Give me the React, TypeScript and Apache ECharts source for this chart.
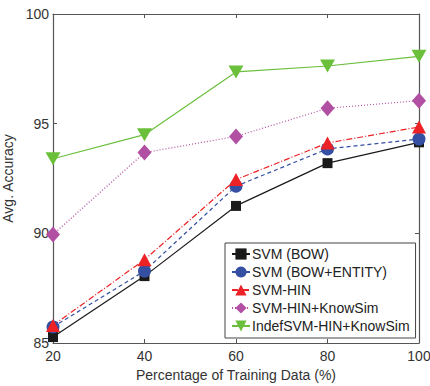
import React, { useEffect, useRef } from "react";
import * as echarts from "echarts";

const xValues = [20, 40, 60, 80, 100];
const svmBow = [85.27, 88.05, 91.25, 93.2, 94.15];
const svmBowEntity = [85.73, 88.28, 92.15, 93.85, 94.3];
const svmHin = [85.8, 88.8, 92.45, 94.12, 94.85];
const svmHinKnowSim = [89.95, 93.68, 94.42, 95.7, 96.05];
const indefSvm = [93.4, 94.5, 97.36, 97.63, 98.07];

const seriesNames = [
  "SVM (BOW)",
  "SVM (BOW+ENTITY)",
  "SVM-HIN",
  "SVM-HIN+KnowSim",
  "IndefSVM-HIN+KnowSim",
];

const FONT = "Liberation Sans, Arial, Helvetica, sans-serif";

export default function App() {
  const ref = useRef<HTMLDivElement>(null);
  useEffect(() => {
    if (!ref.current) return;
    const chart = echarts.init(ref.current, undefined, { renderer: "svg" });
    const pair = (arr: number[]) => arr.map((v, i) => [xValues[i], v]);
    const mk = (
      name: string,
      data: number[],
      color: string,
      symbol: string,
      size: any,
      lineType: any,
      rotate = 0
    ) => ({
      name,
      type: "line",
      data: pair(data),
      symbol,
      symbolSize: size,
      symbolRotate: rotate,
      itemStyle: { color },
      lineStyle: { color, width: 1.2, type: lineType },
      z: 3,
    });
    const axisLine = { show: true, lineStyle: { color: "#555", width: 1.2 } };
    const axisTick = { show: true, inside: true, length: 4, lineStyle: { color: "#555" } };
    chart.setOption({
      animation: false,
      textStyle: { fontFamily: FONT },
      grid: {
        left: 53,
        right: 11,
        top: 14,
        bottom: 43,
        containLabel: false,
        outerBoundsMode: "none",
      },
      xAxis: [
        {
          type: "value",
          min: 20,
          max: 100,
          interval: 20,
          name: "Percentage of Training Data (%)",
          nameLocation: "middle",
          nameGap: 24,
          nameTextStyle: { fontSize: 14, color: "#333", fontFamily: FONT },
          axisLine,
          axisTick,
          axisLabel: { fontSize: 14, color: "#333", margin: 6, fontFamily: FONT },
          splitLine: { show: false },
        },
        {
          type: "value",
          position: "top",
          min: 20,
          max: 100,
          interval: 20,
          axisLine,
          axisTick,
          axisLabel: { show: false },
          splitLine: { show: false },
        },
      ],
      yAxis: [
        {
          type: "value",
          min: 85,
          max: 100,
          interval: 5,
          name: "Avg. Accuracy",
          nameLocation: "middle",
          nameGap: 29,
          nameTextStyle: { fontSize: 14, color: "#333", fontFamily: FONT },
          axisLine,
          axisTick,
          axisLabel: { fontSize: 14, color: "#333", margin: 4, fontFamily: FONT },
          splitLine: { show: false },
        },
        {
          type: "value",
          position: "right",
          min: 85,
          max: 100,
          interval: 5,
          axisLine,
          axisTick,
          axisLabel: { show: false },
          splitLine: { show: false },
        },
      ],
      legend: {
        orient: "vertical",
        left: 225,
        top: 243,
        width: 189,
        itemWidth: 18,
        itemHeight: 14,
        itemGap: 4,
        padding: [4, 6, 5, 6],
        borderColor: "#444",
        borderWidth: 1,
        backgroundColor: "#fff",
        textStyle: { fontSize: 14, color: "#222", fontFamily: FONT, padding: [0, 0, 0, -3] },
        data: seriesNames,
      },
      series: [
        mk(seriesNames[0], svmBow, "#1a1a1a", "rect", 10, "solid"),
        mk(seriesNames[1], svmBowEntity, "#3550a3", "circle", 13, [4, 3]),
        mk(seriesNames[2], svmHin, "#ec2227", "triangle", [14, 13], [6, 2, 1, 2]),
        mk(seriesNames[3], svmHinKnowSim, "#b14fa3", "diamond", [14, 16], [1, 2]),
        mk(seriesNames[4], indefSvm, "#6abf3b", "triangle", [15, 13], "solid", 180),
      ],
    });
    return () => chart.dispose();
  }, []);
  return (
    <div
      ref={ref}
      style={{ position: "absolute", left: 0, top: 0, width: 430, height: 386 }}
    />
  );
}
